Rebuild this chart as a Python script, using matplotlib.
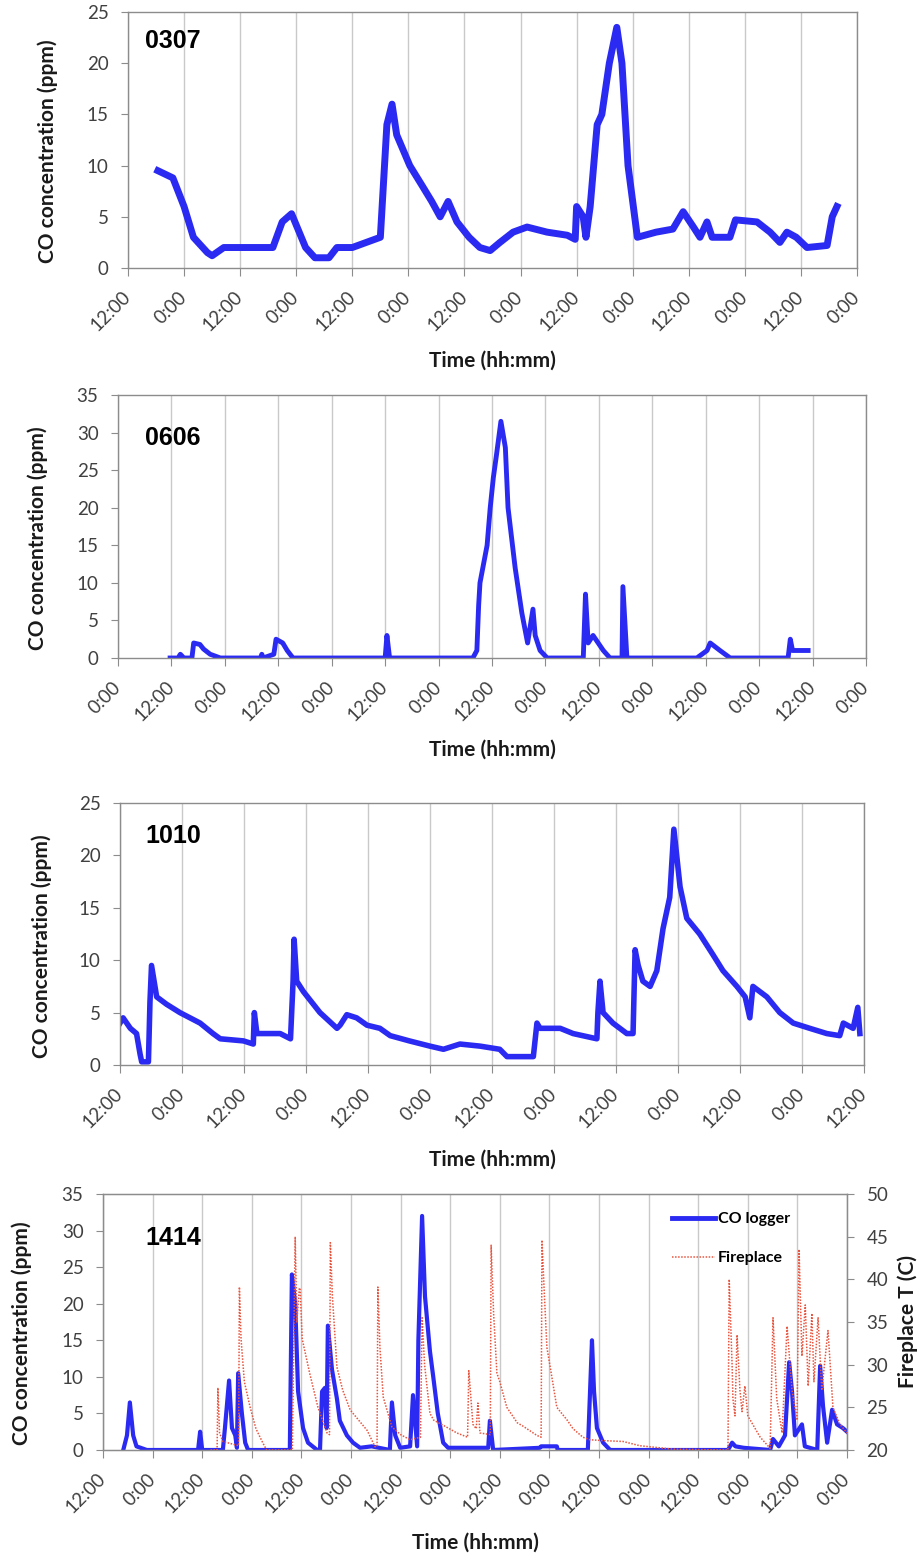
import numpy as np
import matplotlib.pyplot as plt
from matplotlib.lines import Line2D

W, H = 917, 1557
BLUE = '#2a2af2'
RED = '#e8553f'
GRID = '#c9c9c9'
SPINE = '#8c8c8c'
TICKC = '#404040'
FONT = 'Lato'

# ---- 0307 : CO (ppm) vs hours since first 12:00 tick
h_0307 = [6.4, 9.6, 12, 14, 17, 18, 20.5, 31, 33, 35, 38, 40, 43, 44.7, 48, 51, 54, 55.4, 56.5, 57.5,
          60.3, 63, 65, 66.8, 68.5, 70.4, 73, 75.3, 77.5, 79.6, 82.4, 85.4, 89.7, 94, 95.7, 96, 97.4, 98, 98.9, 100.4,
          101.4, 103, 104.6, 105.7, 107, 109, 113, 116.6, 118.8, 121, 122.4, 123.9, 125, 128.8, 130, 134.6, 137.4, 139.5, 141, 143,
          145.3, 149.6, 150.7, 151.7]
co_0307 = [9.5, 8.8, 6, 3, 1.5, 1.2, 2, 2, 4.5, 5.3, 2, 1, 1, 2, 2, 2.5, 3, 14, 16, 13,
           10, 8, 6.5, 5, 6.5, 4.5, 3, 2, 1.7, 2.5, 3.5, 4, 3.5, 3.2, 2.8, 6, 5, 3, 6, 14,
           15, 20, 23.5, 20, 10, 3, 3.5, 3.8, 5.5, 4, 3, 4.5, 3, 3, 4.7, 4.5, 3.5, 2.5, 3.5, 3,
           2, 2.2, 5, 6]

# ---- 0606 : hours since first 0:00 tick
h_0606 = [11.7, 13.5, 14, 14.8, 16.6, 17, 18.4, 19.2, 20.7, 23, 32, 32.3, 32.6, 35, 35.5, 37, 38, 39.3, 60, 60.4,
          61, 79.7, 80.6, 81, 81.3, 82.9, 83.6, 84.3, 85, 86, 87, 87.6, 89.2, 90.7, 92, 93.2, 93.7, 94.8, 96.4, 104.5,
          105, 105.6, 106.7, 109, 110.5, 113.2, 113.4, 114.3, 130, 132.3, 133, 135.2, 137.5, 150.5, 151, 151.5, 152.5, 155]
co_0606 = [0, 0, 0.5, 0, 0, 2, 1.8, 1.2, 0.5, 0, 0, 0.5, 0, 0.5, 2.5, 2, 1, 0, 0, 3,
           0, 0, 1, 7, 10, 15, 20, 24, 27, 31.5, 28, 20, 12, 6, 2, 6.5, 3, 1, 0, 0,
           8.5, 2, 3, 1, 0, 0, 9.5, 0, 0, 1, 2, 1, 0, 0, 2.5, 1, 1, 1]

# ---- 1010 : hours since first 12:00 tick
h_1010 = [0, 0.6, 2, 3.2, 3.9, 4.2, 5.5, 5.8, 6.1, 7.1, 9, 11.6, 15.5, 18, 19.4, 23.9, 25.8, 26, 26.5, 31,
          33, 33.5, 33.7, 34.2, 35.5, 38.7, 42, 42.6, 43.9, 45.8, 47.8, 50.3, 52.3, 56, 60, 62.6, 65.8, 69.7, 73.5, 74.9,
          80, 80.7, 81.3, 85.2, 87.7, 92.3, 92.5, 92.9, 93.5, 95.4, 98.1, 99.3, 99.7, 100.3, 101.2, 102.6, 103.9, 105.1, 106.4, 107.2,
          108.4, 109.7, 112.2, 114.8, 116.7, 119.4, 121, 121.9, 122.5, 125.2, 127.7, 130.3, 133.5, 136.8, 139.3, 140, 141.9, 142.8, 143.2]
co_1010 = [4, 4.5, 3.5, 3, 1, 0.3, 0.3, 6, 9.5, 6.5, 5.8, 5, 4, 3, 2.5, 2.3, 2, 5, 3, 3,
           2.5, 8, 12, 8, 7, 5, 3.5, 3.8, 4.8, 4.5, 3.8, 3.5, 2.8, 2.3, 1.8, 1.5, 2, 1.8, 1.5, 0.8,
           0.8, 4, 3.5, 3.5, 3, 2.5, 5, 8, 5, 4, 3, 3, 11, 9.5, 8, 7.5, 9, 13, 16, 22.5,
           17, 14, 12.5, 10.5, 9, 7.5, 6.5, 4.5, 7.5, 6.5, 5, 4, 3.5, 3, 2.8, 4, 3.5, 5.5, 3]

# ---- 1414 : CO logger and fireplace temperature, hours since first 12:00 tick
h_1414 = [4.9, 5.8, 6.5, 7.3, 8.1, 10.6, 23, 23.5, 24, 29, 29.5, 30.5, 31.2, 32, 32.4, 32.7, 33.6, 34.4, 35.1, 45.2,
          45.7, 46.5, 47.2, 48.4, 49.6, 51.8, 52.5, 53, 53.7, 54.1, 54.4, 55.4, 56.6, 57.3, 59, 60.5, 62.2, 65, 69.4, 69.9,
          70.7, 71.9, 74.3, 75, 76, 76.3, 77.2, 77.9, 79.1, 79.9, 81, 82.3, 83.5, 93.2, 93.6, 94.4, 105.7, 106, 109.8, 110,
          117.3, 118.3, 118.8, 119.5, 121, 122.7, 151.2, 152.2, 153, 155, 161.4, 162.1, 163.5, 165, 166, 166.7, 167.4, 169.1, 169.8, 172.8,
          173.5, 174.2, 175.2, 176.4, 177.6, 179, 180]
co_1414 = [0, 2, 6.5, 2, 0.5, 0, 0, 2.5, 0, 0, 3, 9.5, 3, 2, 0.3, 10.5, 5, 1, 0, 0,
           24, 20, 8, 3, 1, 0, 0, 8, 8.5, 3, 17, 11, 7, 4, 2, 1, 0.3, 0.5, 0, 6.5,
           2, 0.3, 0.5, 7.5, 0.5, 15, 32, 21, 13.5, 10, 5, 1, 0.3, 0.3, 4, 0, 0.3, 0.5, 0.5, 0,
           0, 15, 8, 3, 1, 0, 0, 1, 0.5, 0.3, 0, 1.5, 0.5, 2, 12, 8, 2, 3.5, 0.5, 0,
           11.5, 6, 1, 5.5, 3.5, 3, 2.5]

h_fire = [26, 27.6, 27.8, 28.2, 29, 32.8, 33, 33.4, 34.2, 35.6, 37, 38.7, 39.6, 45.8, 46.5, 46.9, 47.5, 47.7, 48.2, 50,
          52, 54.2, 54.8, 55, 55.5, 56.6, 58, 59.8, 63.9, 65.8, 66.3, 66.5, 67, 67.8, 69.9, 72, 74.3, 76.8, 77.2, 77.8,
          79.1, 80, 82.3, 85.6, 88.2, 88.5, 89.5, 90.3, 90.7, 91.2, 93.7, 93.9, 94.5, 95.3, 96, 97.7, 100.2, 101.6, 105, 106,
          106.2, 106.8, 107.4, 108.2, 109.8, 112.3, 113.7, 116.1, 117.8, 121, 125.8, 129.9, 137.9, 151.2, 151.5, 152.2, 152.4, 152.9, 153.4, 154.1,
          154.6, 155.3, 156, 159, 161.4, 162.1, 163, 164.3, 165.5, 166.7, 167.9, 168.4, 169.1, 169.9, 170.6, 171.5, 172, 173, 173.9, 175.4,
          176.6, 178.3, 180]
t_fire = [20, 20, 27.3, 22, 21, 20.5, 39.1, 33, 28, 25, 22.5, 20.8, 20, 20, 45, 35, 39, 38.8, 33, 29,
          25, 22, 21.8, 44.3, 38, 29.7, 27, 24.7, 22.3, 20.4, 20.4, 39.1, 32, 26.2, 22.7, 21.8, 21.2, 21.5, 35.5, 30,
          24.3, 23.5, 22.9, 22, 21.5, 29.3, 23, 22.5, 25.5, 22, 21.8, 44, 36, 29, 28, 25, 23.2, 22.8, 21.7, 21.5,
          44.6, 38, 32, 29.7, 25, 23.5, 22.5, 21.5, 21.2, 21.1, 21, 20.5, 20.1, 20, 40, 30, 26, 24, 33.5, 27,
          24.5, 27.5, 24, 21.5, 20.2, 35.5, 26, 22, 34.5, 27, 23.5, 43.5, 31, 37, 27.5, 36, 28, 35.5, 27, 34,
          25, 23, 22]


def tick_names(first, n):
    names = ['12:00', '0:00'] if first == '12:00' else ['0:00', '12:00']
    return [names[i % 2] for i in range(n)]


def px_axes(left, top, right, bottom):
    return [left / W, 1 - bottom / H, (right - left) / W, (bottom - top) / H]


def style_yticks(ax):
    for lab in ax.get_yticklabels():
        lab.set_family(FONT)
        lab.set_fontsize(13.5)
        lab.set_color(TICKC)
    ax.tick_params(axis='y', length=5, color=SPINE, pad=9)


def style(ax, nint, first, ymax, ylab_x, xlab_y):
    ax.set_xlim(0, nint * 12)
    ax.set_ylim(0, ymax)
    ax.set_xticks(np.arange(nint + 1) * 12)
    ax.set_xticklabels(tick_names(first, nint + 1), rotation=45, ha='right', va='center',
                       rotation_mode='anchor', family=FONT, fontsize=13.5, color=TICKC)
    ax.set_yticks(np.arange(0, ymax + 1, 5))
    style_yticks(ax)
    ax.tick_params(axis='x', length=6, color=SPINE, pad=13)
    ax.grid(axis='x', color=GRID, lw=1)
    ax.set_axisbelow(True)
    for s in ax.spines.values():
        s.set_color(SPINE)
        s.set_linewidth(1)
    ax.set_ylabel('CO concentration (ppm)', family=FONT, fontweight='bold', fontsize=15, color='#1a1a1a')
    ax.yaxis.set_label_coords(ylab_x, 0.455)
    ax.yaxis.label.set_va('center')
    ax.set_xlabel('Time (hh:mm)', family=FONT, fontweight='bold', fontsize=15, color='#1a1a1a')
    ax.xaxis.set_label_coords(0.5, xlab_y)
    ax.xaxis.label.set_va('center')


fig = plt.figure(figsize=(W / 100, H / 100), dpi=100)

# panel 0307
ax1 = fig.add_axes(px_axes(128, 12, 857, 268))
ax1.plot(h_0307, co_0307, color=BLUE, lw=5, solid_joinstyle='round')
style(ax1, 13, '12:00', 25, -0.110, -0.363)

# panel 0606
ax2 = fig.add_axes(px_axes(118, 395, 866, 658))
ax2.plot(h_0606, co_0606, color=BLUE, lw=3.5, solid_joinstyle='round')
style(ax2, 14, '0:00', 35, -0.107, -0.350)

# panel 1010
ax3 = fig.add_axes(px_axes(120, 803, 864, 1065))
ax3.plot(h_1010, co_1010, color=BLUE, lw=4, solid_joinstyle='round')
style(ax3, 12, '12:00', 25, -0.105, -0.363)

# panel 1414 with fireplace temperature on a second axis
ax4 = fig.add_axes(px_axes(103, 1194, 847, 1450))
ax4.plot(h_1414, co_1414, color=BLUE, lw=3, solid_joinstyle='round')
style(ax4, 15, '12:00', 35, -0.109, -0.363)
ax4r = ax4.twinx()
ax4r.plot(h_fire, t_fire, color=RED, lw=1.1, ls=(0, (1, 1)))
ax4r.set_ylim(20, 50)
ax4r.set_yticks(np.arange(20, 51, 5))
style_yticks(ax4r)
for s in ax4r.spines.values():
    s.set_color(SPINE)
ax4r.set_ylabel('Fireplace T (C)', family=FONT, fontweight='bold', fontsize=15, color='#1a1a1a')
ax4r.yaxis.set_label_coords(1.081, 0.5)
ax4r.yaxis.label.set_va('center')

handles = [Line2D([], [], color=BLUE, lw=3.5), Line2D([], [], color=RED, lw=1.1, ls=(0, (1, 1)))]
ax4r.legend(handles, ['CO logger', 'Fireplace'], loc='upper left', bbox_to_anchor=(0.745, 0.985),
            frameon=False, handlelength=2.7, handletextpad=0.2, labelspacing=1.55,
            prop={'family': FONT, 'weight': 'bold', 'size': 11.5})

# station codes
for code, ybase in [('0307', 48), ('0606', 445), ('1010', 843), ('1414', 1245)]:
    fig.text(145 / W, 1 - ybase / H, code, family='Liberation Sans', fontweight='bold',
             fontsize=18, ha='left', va='baseline')

fig.savefig('out.png', dpi=100)
